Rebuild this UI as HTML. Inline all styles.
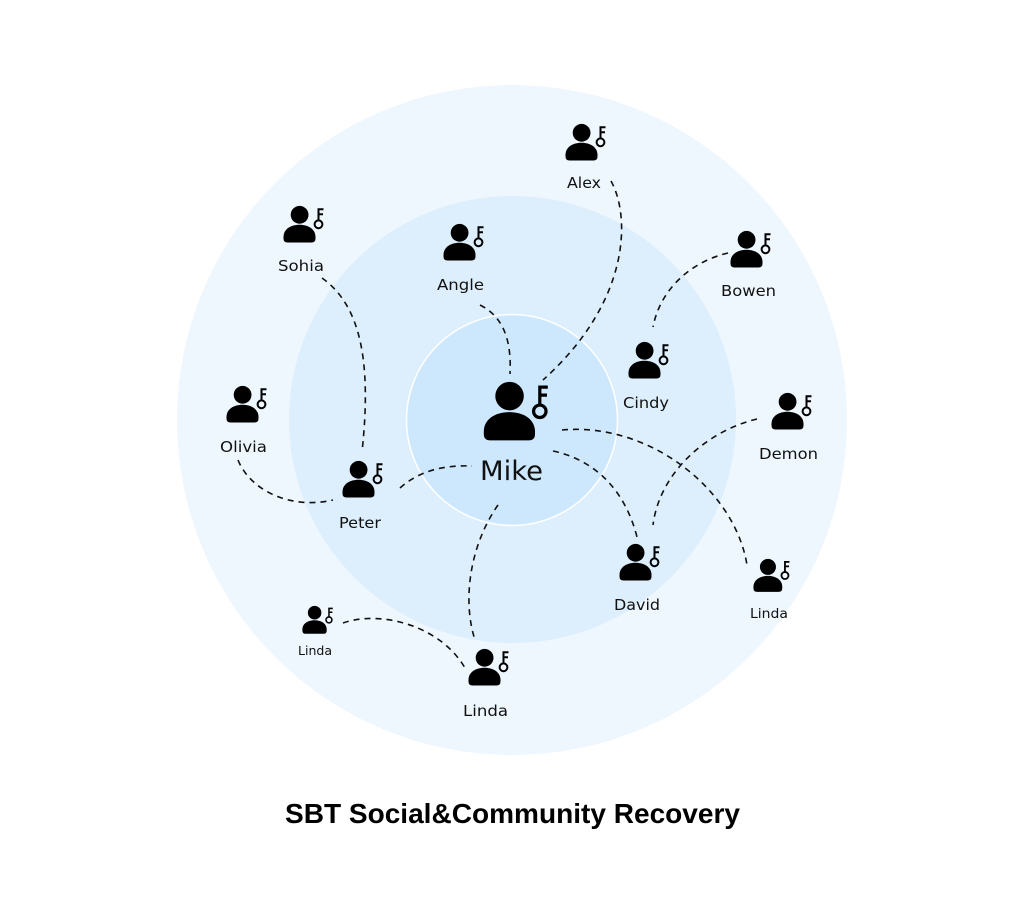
<!DOCTYPE html>
<html>
<head>
<meta charset="utf-8">
<style>
  html, body { margin:0; padding:0; background:#ffffff; }
  svg { display:block; }
  .lbl { font-family: "DejaVu Sans", "Liberation Sans", sans-serif; font-size:15px; fill:#111; }
  .ttl { font-family: "Liberation Sans", "DejaVu Sans", sans-serif; font-size:28px; font-weight:bold; fill:#000; }
  .dash { fill:none; stroke:#111; stroke-width:1.6; stroke-dasharray:6 5; }
</style>
</head>
<body>
<svg width="1024" height="910" viewBox="0 0 1024 910" xmlns="http://www.w3.org/2000/svg">
  <defs>
    <g id="u">
      <circle cx="16.6" cy="8.8" r="8.9" fill="#000"/>
      <path d="M0.5,31 C0.5,23 8,18.8 16.5,18.8 C25,18.8 32.5,23 32.5,31 L32.5,32.5 Q32.5,36.5 28.5,36.5 L4.5,36.5 Q0.5,36.5 0.5,32.5 Z" fill="#000"/>
      <circle cx="35.5" cy="18.3" r="3.9" fill="none" stroke="#000" stroke-width="2"/>
      <path d="M35.5,14.4 V3.2 H40.5 M35.5,8.2 H40" fill="none" stroke="#000" stroke-width="2"/>
    </g>
  </defs>

  <rect width="1024" height="910" fill="#ffffff"/>

  <!-- rings -->
  <circle cx="512" cy="420" r="335" fill="#eef6fe"/>
  <circle cx="512.5" cy="419.5" r="223.5" fill="#ddeefd"/>
  <circle cx="512" cy="420" r="105.5" fill="#cde7fc" stroke="#ffffff" stroke-width="1.5"/>

  <!-- connectors -->
  <path class="dash" d="M611,181 C630,215 632,300 543,380"/>
  <path class="dash" d="M480,305 C500,315 512,335 510,374"/>
  <path class="dash" d="M322,278 C360,305 372,360 362,452"/>
  <path class="dash" d="M238,460 C250,490 290,510 333,500"/>
  <path class="dash" d="M400,488 C420,470 445,465 472,466"/>
  <path class="dash" d="M498,505 C470,545 462,600 475,640"/>
  <path class="dash" d="M343,623 C380,610 440,625 465,668"/>
  <path class="dash" d="M728,253 C690,262 660,290 653,327"/>
  <path class="dash" d="M562,430 C650,422 735,490 747,565"/>
  <path class="dash" d="M553,451 C595,460 625,490 637,537"/>
  <path class="dash" d="M757,419 C710,430 660,470 653,525"/>

  <!-- icons -->
  <use href="#u" transform="translate(565,124)"/>
  <use href="#u" transform="translate(283,206)"/>
  <use href="#u" transform="translate(443,224)"/>
  <use href="#u" transform="translate(730,231)"/>
  <use href="#u" transform="translate(628,342)"/>
  <use href="#u" transform="translate(771,393)"/>
  <use href="#u" transform="translate(226,386)"/>
  <use href="#u" transform="translate(342,461)"/>
  <use href="#u" transform="translate(619,544)"/>
  <use href="#u" transform="translate(753,559) scale(0.9)"/>
  <use href="#u" transform="translate(468,649)"/>
  <use href="#u" transform="translate(302,606) scale(0.76)"/>
  <use href="#u" transform="translate(483,382) scale(1.6)"/>

  <!-- labels -->
  <text class="lbl" x="567" y="188" textLength="34" lengthAdjust="spacingAndGlyphs">Alex</text>
  <text class="lbl" x="278" y="271" textLength="46" lengthAdjust="spacingAndGlyphs">Sohia</text>
  <text class="lbl" x="437" y="290" textLength="47" lengthAdjust="spacingAndGlyphs">Angle</text>
  <text class="lbl" x="721" y="296" textLength="55" lengthAdjust="spacingAndGlyphs">Bowen</text>
  <text class="lbl" x="623" y="408" textLength="46" lengthAdjust="spacingAndGlyphs">Cindy</text>
  <text class="lbl" x="759" y="459" textLength="59" lengthAdjust="spacingAndGlyphs">Demon</text>
  <text class="lbl" x="220" y="452" textLength="47" lengthAdjust="spacingAndGlyphs">Olivia</text>
  <text class="lbl" x="339" y="528" textLength="42" lengthAdjust="spacingAndGlyphs">Peter</text>
  <text class="lbl" x="614" y="610" textLength="46" lengthAdjust="spacingAndGlyphs">David</text>
  <text class="lbl" x="750" y="618" style="font-size:13.5px" textLength="38" lengthAdjust="spacingAndGlyphs">Linda</text>
  <text class="lbl" x="463" y="716" textLength="45" lengthAdjust="spacingAndGlyphs">Linda</text>
  <text class="lbl" x="298" y="655" style="font-size:12px" textLength="34" lengthAdjust="spacingAndGlyphs">Linda</text>
  <text class="lbl" x="480" y="480" style="font-size:27px" textLength="63" lengthAdjust="spacingAndGlyphs">Mike</text>

  <!-- title -->
  <text class="ttl" x="285" y="823" textLength="455" lengthAdjust="spacingAndGlyphs">SBT Social&amp;Community Recovery</text>
</svg>
</body>
</html>
